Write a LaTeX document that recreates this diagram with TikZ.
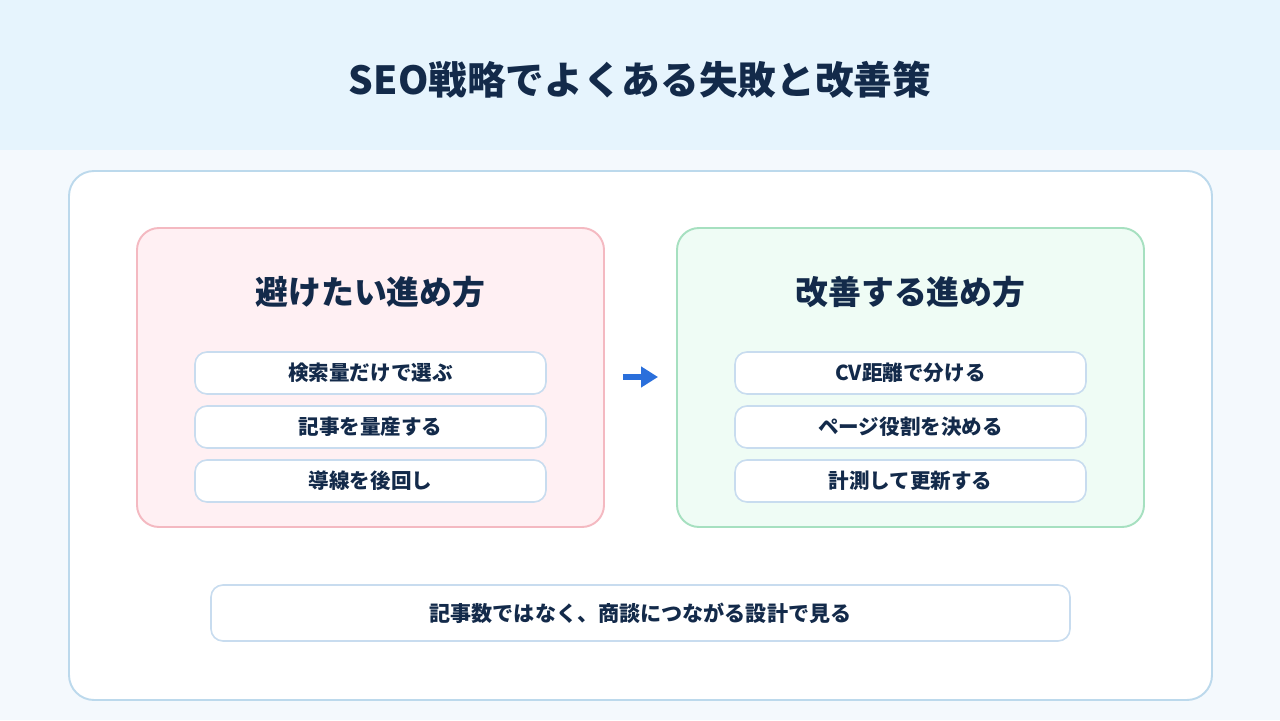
\documentclass[tikz,border=0pt]{standalone}
\usepackage{fontspec}
\setmainfont{Noto Sans CJK JP}
\usepackage{xcolor}
\usepackage{tikz}
\usetikzlibrary{arrows.meta,positioning}
\definecolor{ink}{HTML}{132A4A}
\definecolor{band}{HTML}{E6F4FD}
\definecolor{paper}{HTML}{F4F9FD}
\definecolor{frame}{HTML}{BCD9EC}
\definecolor{badfill}{HTML}{FFF0F3}
\definecolor{badline}{HTML}{F4B9C1}
\definecolor{goodfill}{HTML}{EFFCF5}
\definecolor{goodline}{HTML}{A6E0C0}
\definecolor{pillline}{HTML}{C8DCEF}
\definecolor{go}{HTML}{2A6FDB}
\tikzset{
  panel/.style={draw,line width=1.1pt,rounded corners=0.44cm,minimum width=9.34cm,minimum height=5.98cm},
  pill/.style={draw=pillline,fill=white,line width=0.9pt,rounded corners=0.24cm,minimum width=7.02cm,minimum height=0.84cm,text=ink,font=\fontsize{11.7}{14}\selectfont\bfseries},
  head/.style={text=ink,font=\fontsize{18.7}{22}\selectfont\bfseries}
}
\newcommand{\pill}[3]{\node[pill] (#1) at (#2) {#3};}

\begin{document}
\begin{tikzpicture}
  \fill[paper] (0,0) rectangle (25.6,14.4);
  \fill[band] (0,11.4) rectangle (25.6,14.4);
  \node[text=ink,font=\fontsize{22}{26}\selectfont\bfseries] (title) at (12.8,12.8) {SEO戦略でよくある失敗と改善策};
  \draw[frame,fill=white,line width=1.1pt,rounded corners=0.5cm] (1.38,0.4) rectangle (24.24,10.98);
  % two columns
  \node[panel,draw=badline,fill=badfill] (bad) at (7.41,6.85) {};
  \node[panel,draw=goodline,fill=goodfill] (good) at (18.21,6.85) {};
  \node[head] (badhead) at (7.41,8.56) {避けたい進め方};
  \node[head] (goodhead) at (18.21,8.56) {改善する進め方};
  \pill{b1}{7.41,6.94}{検索量だけで選ぶ}
  \pill{b2}{7.41,5.86}{記事を量産する}
  \pill{b3}{7.41,4.78}{導線を後回し}
  \pill{g1}{18.21,6.94}{CV距離で分ける}
  \pill{g2}{18.21,5.86}{ページ役割を決める}
  \pill{g3}{18.21,4.78}{計測して更新する}
  \draw[go,line width=2.9pt,-{Triangle[length=0.34cm,width=0.4cm]}] ([xshift=0.36cm,yshift=0.01cm]bad.east) -- ([xshift=-0.36cm,yshift=0.01cm]good.west);
  \node[pill,minimum width=17.18cm,minimum height=1.12cm,font=\fontsize{12}{14}\selectfont\bfseries] (sum) at (12.81,2.14) {記事数ではなく、商談につながる設計で見る};
\end{tikzpicture}
\end{document}
